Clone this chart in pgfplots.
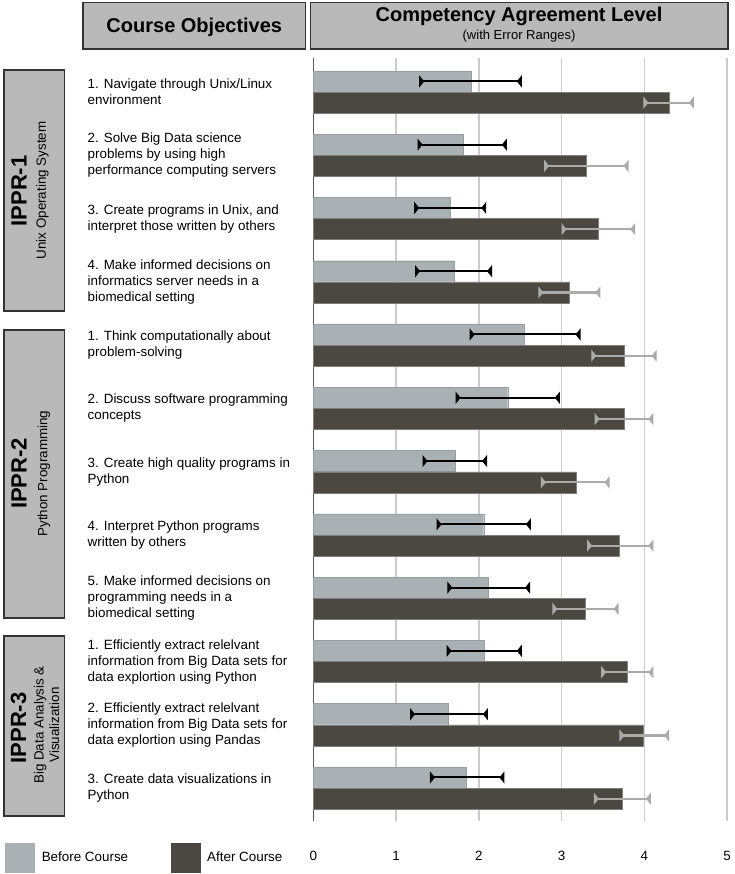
\documentclass[border=0pt]{standalone}
\usepackage{pgfplots}
\usepackage{pgfplotstable}
\pgfplotsset{compat=1.18}
\usepackage{fontspec}
\setmainfont{Liberation Sans}
\usetikzlibrary{arrows.meta}
\definecolor{beforec}{HTML}{A9B1B4}
\definecolor{afterc}{HTML}{4B4842}
\definecolor{boxfill}{HTML}{B9B9B9}
\definecolor{boxline}{HTML}{333333}
\definecolor{gridc}{HTML}{CCCCCC}
\definecolor{errafter}{HTML}{ABABAB}

\pgfplotstableread{
y v em ep
0.832 1.91 0.63 0.61
1.832 1.81 0.55 0.53
2.832 1.65 0.43 0.44
3.832 1.70 0.47 0.46
4.832 2.55 0.66 0.68
5.832 2.35 0.63 0.63
6.832 1.71 0.39 0.39
7.832 2.06 0.57 0.57
8.832 2.11 0.49 0.51
9.832 2.07 0.46 0.45
10.832 1.63 0.46 0.48
11.832 1.85 0.44 0.46
}\beforetab

\pgfplotstableread{
y v em ep
1.168 4.30 0.31 0.30
2.168 3.30 0.51 0.51
3.168 3.45 0.45 0.44
4.168 3.10 0.38 0.37
5.168 3.76 0.40 0.39
6.168 3.76 0.36 0.35
7.168 3.18 0.43 0.40
8.168 3.70 0.39 0.41
9.168 3.29 0.40 0.40
10.168 3.79 0.31 0.32
11.168 3.99 0.29 0.31
12.168 3.73 0.34 0.35
}\aftertab

\newcommand{\lbl}{\fontsize{13.4}{16}\selectfont}

\begin{document}
\begin{tikzpicture}
\useasboundingbox (0pt,0pt) rectangle (735pt,-874pt);
\begin{axis}[
  at={(313.3pt,-58pt)}, anchor=north west,
  scale only axis, width=413.7pt, height=763pt,
  xmin=0, xmax=5, ymin=0.463, ymax=12.52, y dir=reverse,
  axis line style={draw=none},
  xtick={0,1,2,3,4,5}, xmajorgrids, grid style={gridc, line width=1.5pt},
  extra x ticks={0}, extra x tick labels={},
  extra x tick style={grid style={color=black!65, line width=1.3pt}},
  major tick length=0pt,
  ytick={1,2,3,4,5,6,7,8,9,10,11,12},
  yticklabels={
    {1. Navigate through Unix/Linux\\environment},
    {2. Solve Big Data science\\problems by using high\\performance computing servers},
    {3. Create programs in Unix, and\\interpret those written by others},
    {4. Make informed decisions on\\informatics server needs in a\\biomedical setting},
    {1. Think computationally about\\problem-solving},
    {2. Discuss software programming\\concepts},
    {3. Create high quality programs in\\Python},
    {4. Interpret Python programs\\written by others},
    {5. Make informed decisions on\\programming needs in a\\biomedical setting},
    {1. Efficiently extract relelvant\\information from Big Data sets for\\data explortion using Python},
    {2. Efficiently extract relelvant\\information from Big Data sets for\\data explortion using Pandas},
    {3. Create data visualizations in\\Python}},
  yticklabel style={anchor=west, align=left, inner sep=0pt, xshift=-225.8pt, font=\lbl},
  xticklabel style={font=\lbl, yshift=-27pt},
  /pgf/number format/assume math mode=true,
  xbar, bar width=0.332, bar shift=0pt,
  clip=false,
  legend style={at={(-0.745,-0.048)}, anchor=west, draw=none, fill=none, inner sep=0pt,
    legend columns=2, font=\lbl,
    /tikz/every odd column/.append style={column sep=4.5pt},
    /tikz/every even column/.append style={column sep=40.5pt},
    cells={anchor=west}},
  legend image code/.code={\draw[#1,draw=none] (0pt,-15pt) rectangle (30pt,15pt);},
]
\addplot[fill=beforec, draw=beforec!90!black,
  error bars/.cd, x dir=both, x explicit, error mark=none,
  error bar style={line width=2pt, black, -{Triangle[reversed,width=12pt,length=5pt]}}]
  table[x=v, y=y, x error plus=ep, x error minus=em]{\beforetab};
\addlegendentry{Before Course}
\addplot[fill=afterc, draw=afterc!70!white, line width=0.6pt,
  error bars/.cd, x dir=both, x explicit, error mark=none,
  error bar style={line width=2.2pt, errafter, -{Triangle[reversed,width=12pt,length=5pt]}}]
  table[x=v, y=y, x error plus=ep, x error minus=em]{\aftertab};
\addlegendentry{After Course}
\end{axis}

\begin{scope}[x=1pt,y=-1pt]
\draw[boxline, line width=1.6pt, fill=boxfill] (83,2.5) rectangle (305.5,49);
\node[anchor=base] at (194.3,32.5) {\fontsize{20}{24}\selectfont\bfseries Course Objectives};
\draw[boxline, line width=1.6pt, fill=boxfill] (310.5,2.5) rectangle (728,49);
\node[anchor=base] at (519,22) {\fontsize{20}{24}\selectfont\bfseries Competency Agreement Level};
\node[anchor=base] at (519,40) {\fontsize{13}{15}\selectfont (with Error Ranges)};

\draw[boxline, line width=1.6pt, fill=boxfill] (4,70) rectangle (64.5,311);
\node[rotate=90] at (19,191) {\fontsize{22}{26}\selectfont\bfseries IPPR-1};
\node[rotate=90] at (42.5,190.5) {\lbl Unix Operating System};

\draw[boxline, line width=1.6pt, fill=boxfill] (4,330) rectangle (64.5,618);
\node[rotate=90] at (19,473.5) {\fontsize{22}{26}\selectfont\bfseries IPPR-2};
\node[rotate=90] at (44,473.5) {\lbl Python Programming};

\draw[boxline, line width=1.6pt, fill=boxfill] (4,636) rectangle (64.5,816);
\node[rotate=90] at (18.5,728) {\fontsize{22}{26}\selectfont\bfseries IPPR-3};
\node[rotate=90, align=center, font=\fontsize{13.4}{15.5}\selectfont] at (46.5,725) {Big Data Analysis \&\\Visualization};
\end{scope}
\end{tikzpicture}
\end{document}
